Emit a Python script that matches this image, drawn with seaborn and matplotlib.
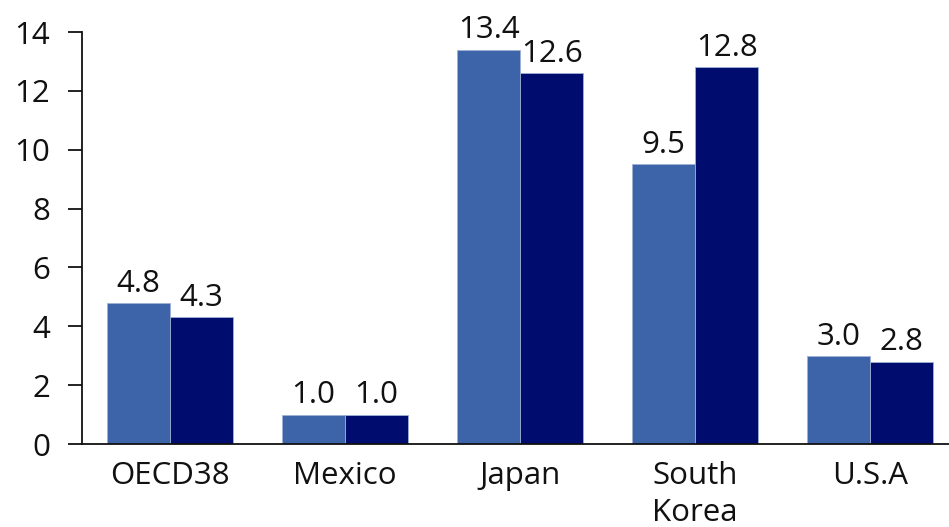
import matplotlib
matplotlib.use("Agg")
import matplotlib.pyplot as plt
import seaborn as sns
import pandas as pd

categories = ["OECD38", "Mexico", "Japan", "South\nKorea", "U.S.A"]
series_names = ["Series A", "Series B"]
series_a = [4.8, 1.0, 13.4, 9.5, 3.0]
series_b = [4.3, 1.0, 12.6, 12.8, 2.8]
colors = ["#3D64A8", "#000C6E"]
yticks = [0, 2, 4, 6, 8, 10, 12, 14]

df = pd.DataFrame({
    "category": categories * 2,
    "series": [series_names[0]] * len(categories) + [series_names[1]] * len(categories),
    "value": series_a + series_b,
})

sns.set_style("white")
plt.rcParams["font.family"] = ["Open Sans", "Noto Sans", "DejaVu Sans"]

fig = plt.figure(figsize=(9.49, 5.27), dpi=100)
ax = fig.add_axes([82 / 949, 1 - 444 / 527, 1 - 82 / 949, (444 - 32) / 527])

sns.barplot(data=df, x="category", y="value", hue="series", palette=colors,
            width=0.72, ax=ax, legend=False, edgecolor="#9fb1d6", linewidth=0.6,
            errorbar=None, saturation=1)

for cont in ax.containers:
    ax.bar_label(cont, fmt="%.1f", padding=3, fontsize=22.5, color="#111111")

ax.set_ylim(0, 14)
ax.set_yticks(yticks)
ax.set_xlim(-0.503, 4.45)
ax.set_xlabel("")
ax.set_ylabel("")
for s in ["top", "right"]:
    ax.spines[s].set_visible(False)
for s in ["left", "bottom"]:
    ax.spines[s].set_color("#111111")
    ax.spines[s].set_linewidth(1.3)
ax.tick_params(axis="y", direction="out", length=10, width=1.3, color="#111111",
               labelsize=22.5, pad=13, left=True)
ax.tick_params(axis="x", length=0, labelsize=22.5, pad=12)
for lbl in ax.get_xticklabels() + ax.get_yticklabels():
    lbl.set_color("#111111")
    lbl.set_linespacing(1.3)

fig.savefig("out.png", dpi=100)
